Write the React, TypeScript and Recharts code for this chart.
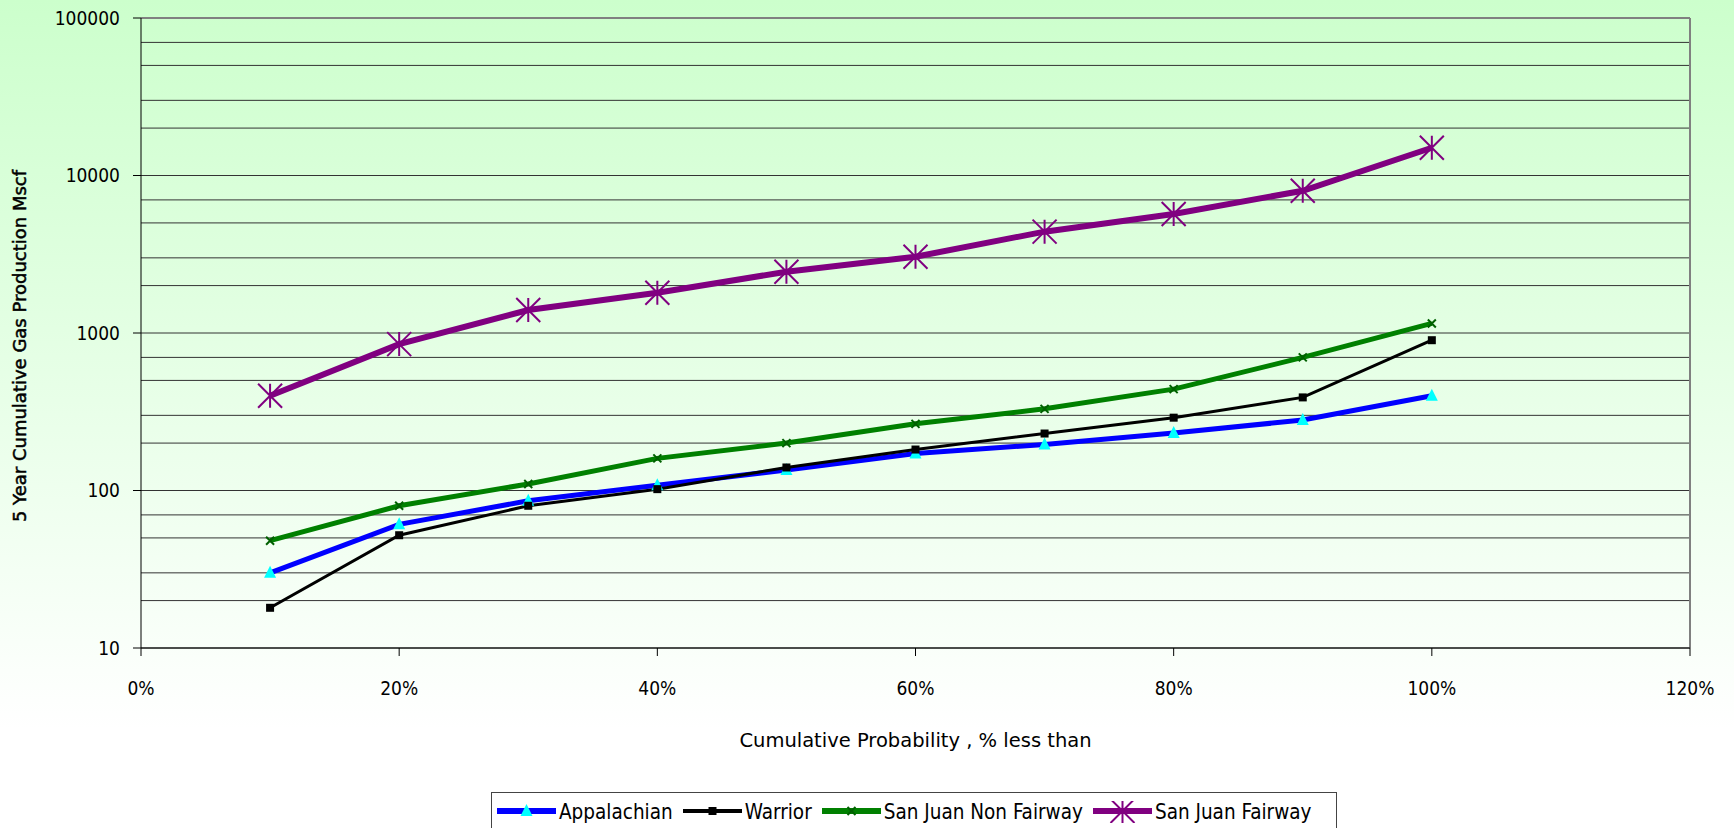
import React from 'react';
import { LineChart, Line, XAxis, YAxis, CartesianGrid, Legend, ReferenceLine } from 'recharts';

// cumulative probability (fraction) for each point
const probabilities = [0.1, 0.2, 0.3, 0.4, 0.5, 0.6, 0.7, 0.8, 0.9, 1.0];

// 5 year cumulative gas production, Mscf
const appalachian = [30, 61, 86, 108, 135, 172, 196, 232, 280, 400];
const warrior = [18, 52, 80, 102, 140, 182, 230, 290, 390, 900];
const sanJuanNonFairway = [48, 80, 110, 160, 200, 265, 330, 440, 700, 1150];
const sanJuanFairway = [400, 850, 1400, 1800, 2450, 3050, 4400, 5700, 8000, 15000];

const xTicks = [0, 0.2, 0.4, 0.6, 0.8, 1.0, 1.2];
const yTicks = [10, 100, 1000, 10000, 100000];
const gridValues = [
  10, 20, 30, 40, 50, 60, 70, 80, 90,
  100, 200, 300, 400, 500, 600, 700, 800, 900,
  1000, 2000, 3000, 4000, 5000, 6000, 7000, 8000, 9000,
  10000, 20000, 30000, 40000, 50000, 60000, 70000, 80000, 90000,
  100000,
];

const seriesOrder = ['appalachian', 'warrior', 'sjNonFairway', 'sjFairway'];

const data = probabilities.map((p, i) => ({
  p,
  appalachian: appalachian[i],
  warrior: warrior[i],
  sjNonFairway: sanJuanNonFairway[i],
  sjFairway: sanJuanFairway[i],
}));

const FONT = '"DejaVu Sans Condensed", "DejaVu Sans", sans-serif';
const FONT_WIDE = '"DejaVu Sans", sans-serif';

const Triangle = ({ cx, cy }: any) => (
  <path d={`M${cx},${cy - 7}L${cx - 6},${cy + 5}L${cx + 6},${cy + 5}Z`} fill="#00FFFF" />
);
const Square = ({ cx, cy }: any) => (
  <rect x={cx - 4} y={cy - 4} width={8} height={8} fill="#000" />
);
const Cross = ({ cx, cy }: any) => (
  <path d={`M${cx - 4},${cy - 4}L${cx + 4},${cy + 4}M${cx - 4},${cy + 4}L${cx + 4},${cy - 4}`} stroke="#006000" strokeWidth={2} fill="none" />
);
const Star = ({ cx, cy }: any) => (
  <path
    d={`M${cx},${cy - 12}L${cx},${cy + 12}M${cx - 12},${cy - 12}L${cx + 12},${cy + 12}M${cx - 12},${cy + 12}L${cx + 12},${cy - 12}`}
    stroke="#800080"
    strokeWidth={2}
    fill="none"
  />
);

const markers: Record<string, React.FC<any>> = {
  appalachian: Triangle,
  warrior: Square,
  sjNonFairway: Cross,
  sjFairway: Star,
};

const lineWidths: Record<string, number> = {
  appalachian: 6,
  warrior: 4,
  sjNonFairway: 6,
  sjFairway: 6,
};

const dotFor = (key: string) => (props: any) => {
  const M = markers[key];
  if (props.cx == null || props.cy == null) return <g key={props.index} />;
  return <M key={`${key}-${props.index}`} cx={props.cx} cy={props.cy} />;
};

const renderLegend = (props: any) => {
  const payload = [...(props.payload || [])].sort(
    (a: any, b: any) => seriesOrder.indexOf(a.dataKey) - seriesOrder.indexOf(b.dataKey)
  );
  return (
    <div
      style={{
        height: 40,
        boxSizing: 'border-box',
        border: '1px solid #444',
        background: '#fff',
        display: 'flex',
        alignItems: 'flex-start',
        padding: '8px 0 0 5px',
        fontFamily: FONT,
        fontSize: 20.5,
        color: '#000',
        whiteSpace: 'nowrap',
      }}
    >
      {payload.map((entry: any) => {
        const M = markers[entry.dataKey];
        return (
          <div key={entry.dataKey} style={{ display: 'flex', alignItems: 'center', height: 22, marginRight: 10 }}>
            <svg width={59} height={22} style={{ marginRight: 3 }}>
              <line x1={0} y1={10} x2={59} y2={10} stroke={entry.color} strokeWidth={lineWidths[entry.dataKey]} />
              <M cx={29.5} cy={10} />
            </svg>
            <span>{entry.value}</span>
          </div>
        );
      })}
    </div>
  );
};

export default function App() {
  return (
    <div
      style={{
        position: 'absolute',
        left: 0,
        top: 0,
        width: 1734,
        height: 828,
        overflow: 'hidden',
        background: 'linear-gradient(#ccffcc 0%, #ffffff 88%, #ffffff 100%)',
      }}
    >
      <LineChart width={1734} height={828} data={data} margin={{ top: 18, right: 44, left: 11, bottom: 30 }}>
        <CartesianGrid vertical={false} horizontalValues={gridValues} stroke="#333" />
        <XAxis
          dataKey="p"
          type="number"
          domain={[0, 1.2]}
          ticks={xTicks}
          tickFormatter={(v: number) => `${Math.round(v * 100)}%`}
          tick={{ fontSize: 19, fontFamily: FONT, fill: '#000' }}
          tickSize={8}
          tickMargin={26}
          stroke="#000"
          height={110}
          label={{
            content: ({ viewBox }: any) => (
              <text
                x={viewBox.x + viewBox.width / 2}
                y={740}
                textAnchor="middle"
                dominantBaseline="central"
                fontSize={19.5}
                fontFamily={FONT_WIDE}
                fill="#000"
              >
                Cumulative Probability , % less than
              </text>
            ),
          }}
        />
        <YAxis
          scale="log"
          domain={[10, 100000]}
          ticks={yTicks}
          allowDataOverflow
          tick={{ fontSize: 19, fontFamily: FONT, fill: '#000' }}
          tickSize={8}
          tickMargin={13}
          stroke="#000"
          width={130}
          label={{
            content: () => {
              const cx = 19;
              const cy = 346;
              return (
                <text
                  x={cx}
                  y={cy}
                  transform={`rotate(-90 ${cx} ${cy})`}
                  textAnchor="middle"
                  dominantBaseline="central"
                  fontSize={18}
                  fontFamily={FONT_WIDE}
                  fill="#000"
                  stroke="#000"
                  strokeWidth={0.5}
                >
                  5 Year Cumulative Gas Production Mscf
                </text>
              );
            },
          }}
        />
        <ReferenceLine x={1.2} stroke="#808080" strokeWidth={2} />
        <ReferenceLine y={100000} stroke="#808080" strokeWidth={2} />
        <Legend
          content={renderLegend}
          wrapperStyle={{ top: 792, left: 491, width: 846, height: 40 }}
        />
        <Line dataKey="appalachian" name="Appalachian" stroke="#0000FF" strokeWidth={5} dot={dotFor('appalachian')} activeDot={false} isAnimationActive={false} />
        <Line dataKey="warrior" name="Warrior" stroke="#000000" strokeWidth={3} dot={dotFor('warrior')} activeDot={false} isAnimationActive={false} />
        <Line dataKey="sjNonFairway" name="San Juan Non Fairway" stroke="#008000" strokeWidth={5} dot={dotFor('sjNonFairway')} activeDot={false} isAnimationActive={false} />
        <Line dataKey="sjFairway" name="San Juan Fairway" stroke="#800080" strokeWidth={6} dot={dotFor('sjFairway')} activeDot={false} isAnimationActive={false} />
      </LineChart>
    </div>
  );
}
